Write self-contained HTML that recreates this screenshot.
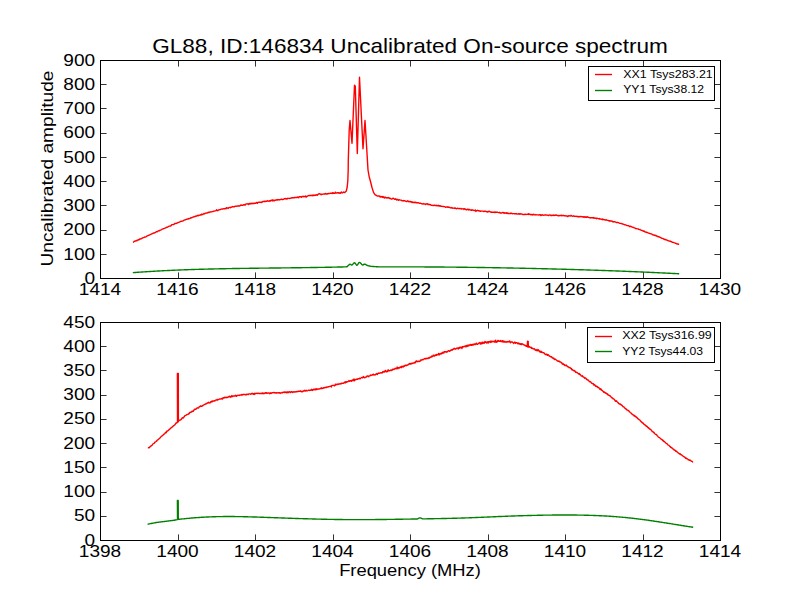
<!DOCTYPE html>
<html><head><meta charset="utf-8"><style>
html,body{margin:0;padding:0;background:#fff;width:800px;height:600px;overflow:hidden}
svg{display:block}
text{font-family:"Liberation Sans", sans-serif}
</style></head><body>
<svg width="800" height="600" viewBox="0 0 800 600">
<rect width="800" height="600" fill="#fff"/>
<defs><clipPath id="c1"><rect x="100" y="60" width="621" height="219"/></clipPath><clipPath id="c2"><rect x="100" y="322" width="621" height="219"/></clipPath></defs>
<g fill="none" stroke-width="1.39" stroke-linejoin="round" stroke-linecap="square">
<path clip-path="url(#c1)" stroke="#008000" d="M133.50 272.60 L134.50 272.53 L135.50 272.45 L136.50 272.38 L137.50 272.31 L138.50 272.24 L139.50 272.17 L140.50 272.10 L141.50 272.03 L142.50 271.97 L143.50 271.90 L144.50 271.83 L145.50 271.77 L146.50 271.70 L147.50 271.64 L148.50 271.58 L149.50 271.52 L150.50 271.46 L151.50 271.40 L152.50 271.34 L153.50 271.28 L154.50 271.22 L155.50 271.16 L156.50 271.11 L157.50 271.05 L158.50 271.00 L159.50 270.94 L160.50 270.89 L161.50 270.84 L162.50 270.78 L163.50 270.73 L164.50 270.68 L165.50 270.63 L166.50 270.58 L167.50 270.54 L168.50 270.49 L169.50 270.44 L170.50 270.39 L171.50 270.35 L172.50 270.30 L173.50 270.26 L174.50 270.22 L175.50 270.17 L176.50 270.13 L177.50 270.09 L178.50 270.05 L179.50 270.01 L180.50 269.97 L181.50 269.93 L182.50 269.89 L183.50 269.85 L184.50 269.81 L185.50 269.77 L186.50 269.74 L187.50 269.70 L188.50 269.67 L189.50 269.63 L190.50 269.60 L191.50 269.56 L192.50 269.53 L193.50 269.50 L194.50 269.47 L195.50 269.43 L196.50 269.40 L197.50 269.37 L198.50 269.34 L199.50 269.31 L200.50 269.28 L201.50 269.25 L202.50 269.23 L203.50 269.20 L204.50 269.17 L205.50 269.14 L206.50 269.12 L207.50 269.09 L208.50 269.06 L209.50 269.04 L210.50 269.01 L211.50 268.99 L212.50 268.97 L213.50 268.94 L214.50 268.92 L215.50 268.90 L216.50 268.87 L217.50 268.85 L218.50 268.83 L219.50 268.81 L220.50 268.79 L221.50 268.77 L222.50 268.75 L223.50 268.73 L224.50 268.71 L225.50 268.69 L226.50 268.67 L227.50 268.65 L228.50 268.63 L229.50 268.61 L230.50 268.60 L231.50 268.58 L232.50 268.56 L233.50 268.55 L234.50 268.53 L235.50 268.51 L236.50 268.50 L237.50 268.48 L238.50 268.46 L239.50 268.45 L240.50 268.43 L241.50 268.42 L242.50 268.40 L243.50 268.39 L244.50 268.37 L245.50 268.36 L246.50 268.35 L247.50 268.33 L248.50 268.32 L249.50 268.31 L250.50 268.29 L251.50 268.28 L252.50 268.27 L253.50 268.25 L254.50 268.24 L255.50 268.23 L256.50 268.22 L257.50 268.20 L258.50 268.19 L259.50 268.18 L260.50 268.17 L261.50 268.16 L262.50 268.14 L263.50 268.13 L264.50 268.12 L265.50 268.11 L266.50 268.10 L267.50 268.09 L268.50 268.07 L269.50 268.06 L270.50 268.05 L271.50 268.04 L272.50 268.03 L273.50 268.02 L274.50 268.01 L275.50 268.00 L276.50 267.98 L277.50 267.97 L278.50 267.96 L279.50 267.95 L280.50 267.94 L281.50 267.93 L282.50 267.92 L283.50 267.91 L284.50 267.89 L285.50 267.88 L286.50 267.87 L287.50 267.86 L288.50 267.85 L289.50 267.84 L290.50 267.83 L291.50 267.81 L292.50 267.80 L293.50 267.79 L294.50 267.78 L295.50 267.76 L296.50 267.75 L297.50 267.74 L298.50 267.73 L299.50 267.71 L300.50 267.70 L301.50 267.69 L302.50 267.67 L303.50 267.66 L304.50 267.65 L305.50 267.63 L306.50 267.62 L307.50 267.61 L308.50 267.59 L309.50 267.58 L310.50 267.56 L311.50 267.55 L312.50 267.53 L313.50 267.52 L314.50 267.50 L315.50 267.48 L316.50 267.47 L317.50 267.45 L318.50 267.43 L319.50 267.42 L320.50 267.40 L321.50 267.38 L322.50 267.37 L323.50 267.35 L324.50 267.33 L325.50 267.31 L326.50 267.29 L327.50 267.27 L328.50 267.25 L329.50 267.23 L330.50 267.21 L331.50 267.19 L332.50 267.17 L333.50 267.15 L334.50 267.13 L335.50 267.10 L336.50 267.08 L337.50 267.06 L338.50 267.04 L339.50 267.01 L340.00 267.00 L340.30 266.99 L340.69 266.98 L341.16 266.97 L341.68 266.97 L342.25 266.96 L342.85 266.94 L343.46 266.93 L344.07 266.91 L344.66 266.89 L345.21 266.86 L345.71 266.83 L346.15 266.79 L346.50 266.75 L347.35 266.49 L347.65 266.15 L348.00 265.75 L348.46 265.36 L348.97 264.89 L349.49 264.48 L350.00 264.25 L350.49 264.35 L350.97 264.67 L351.46 264.97 L352.00 265.00 L352.47 264.67 L352.96 264.09 L353.48 263.45 L353.99 262.94 L354.50 262.75 L355.00 263.03 L355.50 263.66 L356.00 264.41 L356.50 265.02 L357.00 265.25 L357.49 264.94 L357.98 264.23 L358.46 263.40 L358.97 262.71 L359.50 262.40 L359.98 262.56 L360.50 262.99 L361.03 263.58 L361.56 264.19 L362.05 264.71 L362.50 265.00 L363.05 264.97 L363.50 264.63 L363.95 264.25 L364.50 264.10 L364.92 264.21 L365.37 264.41 L365.84 264.69 L366.35 264.99 L366.90 265.27 L367.50 265.50 L367.91 265.62 L368.33 265.74 L368.76 265.85 L369.21 265.96 L369.68 266.05 L370.19 266.15 L370.74 266.24 L371.34 266.32 L372.00 266.40 L372.42 266.44 L372.89 266.49 L373.40 266.53 L373.94 266.56 L374.51 266.60 L375.10 266.64 L375.69 266.67 L376.28 266.71 L376.87 266.74 L377.43 266.77 L377.97 266.79 L378.48 266.82 L378.95 266.84 L379.36 266.86 L379.71 266.88 L380.00 266.90 L381.00 266.89 L382.00 266.89 L383.00 266.89 L384.00 266.88 L385.00 266.88 L386.00 266.88 L387.00 266.87 L388.00 266.87 L389.00 266.87 L390.00 266.87 L391.00 266.87 L392.00 266.87 L393.00 266.86 L394.00 266.86 L395.00 266.86 L396.00 266.86 L397.00 266.86 L398.00 266.86 L399.00 266.86 L400.00 266.86 L401.00 266.86 L402.00 266.86 L403.00 266.86 L404.00 266.86 L405.00 266.87 L406.00 266.87 L407.00 266.87 L408.00 266.87 L409.00 266.87 L410.00 266.87 L411.00 266.88 L412.00 266.88 L413.00 266.88 L414.00 266.88 L415.00 266.89 L416.00 266.89 L417.00 266.89 L418.00 266.90 L419.00 266.90 L420.00 266.91 L421.00 266.91 L422.00 266.92 L423.00 266.92 L424.00 266.93 L425.00 266.93 L426.00 266.94 L427.00 266.94 L428.00 266.95 L429.00 266.95 L430.00 266.96 L431.00 266.96 L432.00 266.97 L433.00 266.98 L434.00 266.98 L435.00 266.99 L436.00 267.00 L437.00 267.01 L438.00 267.01 L439.00 267.02 L440.00 267.03 L441.00 267.04 L442.00 267.04 L443.00 267.05 L444.00 267.06 L445.00 267.07 L446.00 267.08 L447.00 267.09 L448.00 267.10 L449.00 267.11 L450.00 267.12 L451.00 267.13 L452.00 267.14 L453.00 267.15 L454.00 267.16 L455.00 267.17 L456.00 267.18 L457.00 267.19 L458.00 267.20 L459.00 267.21 L460.00 267.22 L461.00 267.23 L462.00 267.24 L463.00 267.26 L464.00 267.27 L465.00 267.28 L466.00 267.29 L467.00 267.31 L468.00 267.32 L469.00 267.33 L470.00 267.34 L471.00 267.36 L472.00 267.37 L473.00 267.38 L474.00 267.40 L475.00 267.41 L476.00 267.43 L477.00 267.44 L478.00 267.45 L479.00 267.47 L480.00 267.48 L481.00 267.50 L482.00 267.51 L483.00 267.53 L484.00 267.54 L485.00 267.56 L486.00 267.57 L487.00 267.59 L488.00 267.61 L489.00 267.62 L490.00 267.64 L491.00 267.65 L492.00 267.67 L493.00 267.69 L494.00 267.70 L495.00 267.72 L496.00 267.74 L497.00 267.76 L498.00 267.77 L499.00 267.79 L500.00 267.81 L501.00 267.83 L502.00 267.85 L503.00 267.86 L504.00 267.88 L505.00 267.90 L506.00 267.92 L507.00 267.94 L508.00 267.96 L509.00 267.98 L510.00 268.00 L511.00 268.01 L512.00 268.03 L513.00 268.05 L514.00 268.07 L515.00 268.09 L516.00 268.11 L517.00 268.13 L518.00 268.15 L519.00 268.17 L520.00 268.20 L521.00 268.22 L522.00 268.24 L523.00 268.26 L524.00 268.28 L525.00 268.30 L526.00 268.32 L527.00 268.34 L528.00 268.37 L529.00 268.39 L530.00 268.41 L531.00 268.43 L532.00 268.45 L533.00 268.48 L534.00 268.50 L535.00 268.52 L536.00 268.55 L537.00 268.57 L538.00 268.59 L539.00 268.62 L540.00 268.64 L541.00 268.66 L542.00 268.69 L543.00 268.71 L544.00 268.74 L545.00 268.76 L546.00 268.78 L547.00 268.81 L548.00 268.83 L549.00 268.86 L550.00 268.88 L551.00 268.91 L552.00 268.94 L553.00 268.96 L554.00 268.99 L555.00 269.01 L556.00 269.04 L557.00 269.07 L558.00 269.09 L559.00 269.12 L560.00 269.15 L561.00 269.17 L562.00 269.20 L563.00 269.23 L564.00 269.26 L565.00 269.28 L566.00 269.31 L567.00 269.34 L568.00 269.37 L569.00 269.40 L570.00 269.42 L571.00 269.45 L572.00 269.48 L573.00 269.51 L574.00 269.54 L575.00 269.57 L576.00 269.60 L577.00 269.63 L578.00 269.66 L579.00 269.69 L580.00 269.72 L581.00 269.75 L582.00 269.78 L583.00 269.81 L584.00 269.84 L585.00 269.88 L586.00 269.91 L587.00 269.94 L588.00 269.97 L589.00 270.00 L590.00 270.04 L591.00 270.07 L592.00 270.10 L593.00 270.13 L594.00 270.17 L595.00 270.20 L596.00 270.23 L597.00 270.27 L598.00 270.30 L599.00 270.33 L600.00 270.37 L601.00 270.40 L602.00 270.44 L603.00 270.47 L604.00 270.51 L605.00 270.54 L606.00 270.58 L607.00 270.61 L608.00 270.65 L609.00 270.69 L610.00 270.72 L611.00 270.76 L612.00 270.80 L613.00 270.83 L614.00 270.87 L615.00 270.91 L616.00 270.94 L617.00 270.98 L618.00 271.02 L619.00 271.06 L620.00 271.10 L621.00 271.14 L622.00 271.17 L623.00 271.21 L624.00 271.25 L625.00 271.29 L626.00 271.33 L627.00 271.37 L628.00 271.41 L629.00 271.45 L630.00 271.49 L631.00 271.53 L632.00 271.57 L633.00 271.62 L634.00 271.66 L635.00 271.70 L636.00 271.74 L637.00 271.78 L638.00 271.83 L639.00 271.87 L640.00 271.91 L641.00 271.95 L642.00 272.00 L643.00 272.04 L644.00 272.08 L645.00 272.13 L646.00 272.17 L647.00 272.22 L648.00 272.26 L649.00 272.31 L650.00 272.35 L651.00 272.40 L652.00 272.44 L653.00 272.49 L654.00 272.53 L655.00 272.58 L656.00 272.63 L657.00 272.67 L658.00 272.72 L659.00 272.77 L660.00 272.82 L661.00 272.86 L662.00 272.91 L663.00 272.96 L664.00 273.01 L665.00 273.06 L666.00 273.11 L667.00 273.15 L668.00 273.20 L669.00 273.25 L670.00 273.30 L671.00 273.35 L672.00 273.40 L673.00 273.46 L674.00 273.51 L675.00 273.56 L676.00 273.61 L677.00 273.66 L678.00 273.71 L678.50 273.74"/>
<path clip-path="url(#c1)" stroke="#ff0000" d="M133.60 241.99 L134.15 241.47 L134.70 241.26 L135.25 240.97 L135.80 241.01 L136.35 240.35 L136.90 240.69 L137.45 240.11 L138.00 240.04 L138.55 239.73 L139.10 239.74 L139.65 239.00 L140.20 239.02 L140.75 238.78 L141.30 238.77 L141.85 238.20 L142.40 238.10 L142.95 237.76 L143.50 237.66 L144.05 237.50 L144.60 237.01 L145.15 237.11 L145.70 236.83 L146.25 236.53 L146.80 236.34 L147.35 235.85 L147.90 235.70 L148.45 235.32 L149.00 235.18 L149.55 235.06 L150.10 234.62 L150.65 234.42 L151.20 234.13 L151.75 233.85 L152.30 233.63 L152.85 233.49 L153.40 233.06 L153.95 233.04 L154.50 233.03 L155.05 232.63 L155.60 232.22 L156.15 231.85 L156.70 231.63 L157.25 231.80 L157.80 231.27 L158.35 230.90 L158.90 230.80 L159.45 230.89 L160.00 230.29 L160.55 230.13 L161.10 229.83 L161.65 229.46 L162.20 229.07 L162.75 228.97 L163.30 228.75 L163.85 228.65 L164.40 228.46 L164.95 228.23 L165.50 227.87 L166.05 227.74 L166.60 227.19 L167.15 227.33 L167.70 226.95 L168.25 226.55 L168.80 226.47 L169.35 226.12 L169.90 226.12 L170.45 225.96 L171.00 225.86 L171.55 224.93 L172.10 224.68 L172.65 224.64 L173.20 224.54 L173.75 224.46 L174.30 224.12 L174.85 223.42 L175.40 223.54 L175.95 223.55 L176.50 223.21 L177.05 223.10 L177.60 222.68 L178.15 222.47 L178.70 222.33 L179.25 222.17 L179.80 221.91 L180.35 221.68 L180.90 221.31 L181.45 221.32 L182.00 221.06 L182.55 221.07 L183.10 220.88 L183.65 220.46 L184.20 220.13 L184.75 219.88 L185.30 219.91 L185.85 219.63 L186.40 219.35 L186.95 219.24 L187.50 218.90 L188.05 218.99 L188.60 218.55 L189.15 218.73 L189.70 218.36 L190.25 218.21 L190.80 217.65 L191.35 217.75 L191.90 217.69 L192.45 217.13 L193.00 217.10 L193.55 216.99 L194.10 216.49 L194.65 216.69 L195.20 216.64 L195.75 216.07 L196.30 216.18 L196.85 215.62 L197.40 215.74 L197.95 215.20 L198.50 215.67 L199.05 215.34 L199.60 215.07 L200.15 214.72 L200.70 215.04 L201.25 215.04 L201.80 213.97 L202.35 214.54 L202.90 214.48 L203.45 214.01 L204.00 213.49 L204.55 213.82 L205.10 213.41 L205.65 213.16 L206.20 212.85 L206.75 213.13 L207.30 213.04 L207.85 212.54 L208.40 212.67 L208.95 212.11 L209.50 212.44 L210.05 212.11 L210.60 211.91 L211.15 211.78 L211.70 211.88 L212.25 211.71 L212.80 211.51 L213.35 211.27 L213.90 211.12 L214.45 211.11 L215.00 210.88 L215.55 210.86 L216.10 210.47 L216.65 209.80 L217.20 210.54 L217.75 210.70 L218.30 210.13 L218.85 209.86 L219.40 209.72 L219.95 209.59 L220.50 209.50 L221.05 209.08 L221.60 209.11 L222.15 208.86 L222.70 209.05 L223.25 208.79 L223.80 208.87 L224.35 208.57 L224.90 208.75 L225.45 208.43 L226.00 208.83 L226.55 207.64 L227.10 207.85 L227.65 208.14 L228.20 208.45 L228.75 207.61 L229.30 207.57 L229.85 207.38 L230.40 207.68 L230.95 207.14 L231.50 207.28 L232.05 206.91 L232.60 206.55 L233.15 206.86 L233.70 206.80 L234.25 206.90 L234.80 206.42 L235.35 206.18 L235.90 206.39 L236.45 206.20 L237.00 206.11 L237.55 205.91 L238.10 206.14 L238.65 205.82 L239.20 206.14 L239.75 205.82 L240.30 205.60 L240.85 204.88 L241.40 205.39 L241.95 205.24 L242.50 205.25 L243.05 205.22 L243.60 204.73 L244.15 204.97 L244.70 204.49 L245.25 205.09 L245.80 204.10 L246.35 203.88 L246.90 203.82 L247.45 203.94 L248.00 203.78 L248.55 204.54 L249.10 203.82 L249.65 203.45 L250.20 204.04 L250.75 203.48 L251.30 203.21 L251.85 203.71 L252.40 203.56 L252.95 203.18 L253.50 203.60 L254.05 203.16 L254.60 203.49 L255.15 203.10 L255.70 203.31 L256.25 202.82 L256.80 202.37 L257.35 203.31 L257.90 202.39 L258.45 202.40 L259.00 202.18 L259.55 202.24 L260.10 202.29 L260.65 202.19 L261.20 202.25 L261.75 202.49 L262.30 201.87 L262.85 201.47 L263.40 201.41 L263.95 201.48 L264.50 201.11 L265.05 201.75 L265.60 201.29 L266.15 201.27 L266.70 201.28 L267.25 200.81 L267.80 200.88 L268.35 201.25 L268.90 201.16 L269.45 200.78 L270.00 201.35 L270.55 200.38 L271.10 200.58 L271.65 200.54 L272.20 199.73 L272.75 201.02 L273.30 200.49 L273.85 200.01 L274.40 200.84 L274.95 200.34 L275.50 200.22 L276.05 199.85 L276.60 199.98 L277.15 199.44 L277.70 200.04 L278.25 199.63 L278.80 199.71 L279.35 199.95 L279.90 199.61 L280.45 199.53 L281.00 199.46 L281.55 199.10 L282.10 199.49 L282.65 199.62 L283.20 199.32 L283.75 199.29 L284.30 198.70 L284.85 198.64 L285.40 198.40 L285.95 199.11 L286.50 198.60 L287.05 199.02 L287.60 198.31 L288.15 198.34 L288.70 198.43 L289.25 198.60 L289.80 198.28 L290.35 198.25 L290.90 198.12 L291.45 198.10 L292.00 197.65 L292.55 197.93 L293.10 197.78 L293.65 197.75 L294.20 197.84 L294.75 197.42 L295.30 197.53 L295.85 197.40 L296.40 197.54 L296.95 197.58 L297.50 196.98 L298.05 197.38 L298.60 197.75 L299.15 196.62 L299.70 196.74 L300.25 196.65 L300.80 196.76 L301.35 197.27 L301.90 196.71 L302.45 196.42 L303.00 196.75 L303.55 196.31 L304.10 196.76 L304.65 196.44 L305.20 196.70 L305.75 196.01 L306.30 197.06 L306.85 196.32 L307.40 196.20 L307.95 195.92 L308.50 195.64 L309.05 195.53 L309.60 195.68 L310.15 195.41 L310.70 195.67 L311.25 195.27 L311.80 195.64 L312.35 195.68 L312.90 195.10 L313.45 195.62 L314.00 195.11 L314.55 195.48 L315.10 195.19 L315.65 195.33 L316.20 194.62 L316.75 194.83 L317.30 195.24 L317.85 194.54 L318.40 194.04 L318.95 194.00 L319.50 193.76 L320.05 193.82 L320.60 194.29 L321.15 194.76 L321.70 194.16 L322.25 194.34 L322.80 194.15 L323.35 194.12 L323.90 194.01 L324.45 193.95 L325.00 194.09 L325.55 193.53 L326.10 194.15 L326.65 194.07 L327.20 193.67 L327.75 193.93 L328.30 193.40 L328.85 193.40 L329.40 193.57 L329.95 193.41 L330.50 193.28 L331.05 193.16 L331.60 193.14 L332.15 193.57 L332.70 192.61 L333.25 193.29 L333.80 193.06 L334.35 193.32 L334.90 193.21 L335.45 192.12 L336.00 193.14 L336.55 193.02 L337.10 192.88 L337.65 192.69 L338.20 193.07 L338.75 192.63 L339.30 193.31 L339.85 192.87 L340.40 193.33 L340.95 192.37 L341.50 192.03 L342.05 192.78 L342.60 192.80 L343.15 192.51 L343.70 191.98 L344.25 192.30 L344.80 192.61 L345.00 192.34 L346.30 191.10 L347.20 187.00 L347.80 181.00 L348.20 170.00 L348.30 160.00 L349.20 130.00 L350.00 120.50 L352.00 143.30 L354.50 85.30 L355.30 86.20 L357.30 153.50 L359.50 77.30 L363.00 148.80 L365.00 120.50 L365.60 130.00 L367.40 160.00 L368.00 170.00 L369.30 177.30 L370.50 181.50 L372.00 187.50 L373.50 192.40 L375.00 194.60 L377.50 196.10 L378.05 196.13 L378.60 196.00 L379.15 196.22 L379.70 196.05 L380.25 197.12 L380.80 196.54 L381.35 196.92 L381.90 196.57 L382.45 197.21 L383.00 196.51 L383.55 197.45 L384.10 197.26 L384.65 198.00 L385.20 197.07 L385.75 197.58 L386.30 197.77 L386.85 198.12 L387.40 197.73 L387.95 197.97 L388.50 197.41 L389.05 197.89 L389.60 198.37 L390.15 198.66 L390.70 198.34 L391.25 199.13 L391.80 199.14 L392.35 198.69 L392.90 198.10 L393.45 198.38 L394.00 198.77 L394.55 199.42 L395.10 199.28 L395.65 198.66 L396.20 199.30 L396.75 199.94 L397.30 199.45 L397.85 199.43 L398.40 200.34 L398.95 199.85 L399.50 199.79 L400.05 200.12 L400.60 200.12 L401.15 200.08 L401.70 200.64 L402.25 200.71 L402.80 200.72 L403.35 200.54 L403.90 200.99 L404.45 200.74 L405.00 200.97 L405.55 201.23 L406.10 201.25 L406.65 201.62 L407.20 201.33 L407.75 200.81 L408.30 201.05 L408.85 201.85 L409.40 201.46 L409.95 201.75 L410.50 201.49 L411.05 202.10 L411.60 201.80 L412.15 202.41 L412.70 201.93 L413.25 202.48 L413.80 202.44 L414.35 202.14 L414.90 202.74 L415.45 202.26 L416.00 202.37 L416.55 202.89 L417.10 202.60 L417.65 202.69 L418.20 202.84 L418.75 202.75 L419.30 203.40 L419.85 203.36 L420.40 203.26 L420.95 203.33 L421.50 203.57 L422.05 204.02 L422.60 203.85 L423.15 203.55 L423.70 203.99 L424.25 203.83 L424.80 203.89 L425.35 204.54 L425.90 203.99 L426.45 204.06 L427.00 203.73 L427.55 203.97 L428.10 204.55 L428.65 204.32 L429.20 204.73 L429.75 204.37 L430.30 204.54 L430.85 205.02 L431.40 205.31 L431.95 205.15 L432.50 205.39 L433.05 205.61 L433.60 205.51 L434.15 205.06 L434.70 205.35 L435.25 205.63 L435.80 205.42 L436.35 205.74 L436.90 205.27 L437.45 205.54 L438.00 205.99 L438.55 205.32 L439.10 205.70 L439.65 206.07 L440.20 205.69 L440.75 206.24 L441.30 206.08 L441.85 206.29 L442.40 206.38 L442.95 206.57 L443.50 206.44 L444.05 206.69 L444.60 206.58 L445.15 206.96 L445.70 207.33 L446.25 207.01 L446.80 207.08 L447.35 206.80 L447.90 207.36 L448.45 207.05 L449.00 207.10 L449.55 207.53 L450.10 207.51 L450.65 207.82 L451.20 207.98 L451.75 207.53 L452.30 207.77 L452.85 208.27 L453.40 208.13 L453.95 208.13 L454.50 208.35 L455.05 207.92 L455.60 208.32 L456.15 208.58 L456.70 208.71 L457.25 208.14 L457.80 208.35 L458.35 208.58 L458.90 208.48 L459.45 208.52 L460.00 208.86 L460.55 208.66 L461.10 208.35 L461.65 208.97 L462.20 208.83 L462.75 208.82 L463.30 208.67 L463.85 209.40 L464.40 208.63 L464.95 208.83 L465.50 209.25 L466.05 209.70 L466.60 209.78 L467.15 209.22 L467.70 209.53 L468.25 209.25 L468.80 209.95 L469.35 209.38 L469.90 209.78 L470.45 210.14 L471.00 209.88 L471.55 210.37 L472.10 209.84 L472.65 210.21 L473.20 210.39 L473.75 210.20 L474.30 210.64 L474.85 210.49 L475.40 209.99 L475.95 211.46 L476.50 210.68 L477.05 210.60 L477.60 210.28 L478.15 210.71 L478.70 210.63 L479.25 210.96 L479.80 210.95 L480.35 211.37 L480.90 211.00 L481.45 211.15 L482.00 211.17 L482.55 211.09 L483.10 211.14 L483.65 211.51 L484.20 211.48 L484.75 211.18 L485.30 211.12 L485.85 211.43 L486.40 211.78 L486.95 211.54 L487.50 212.03 L488.05 211.46 L488.60 211.73 L489.15 211.13 L489.70 211.65 L490.25 211.77 L490.80 212.02 L491.35 212.37 L491.90 212.00 L492.45 212.40 L493.00 212.25 L493.55 212.38 L494.10 212.07 L494.65 212.57 L495.20 212.01 L495.75 212.44 L496.30 212.14 L496.85 212.29 L497.40 212.10 L497.95 212.38 L498.50 212.63 L499.05 212.57 L499.60 212.31 L500.15 213.04 L500.70 212.80 L501.25 213.01 L501.80 213.00 L502.35 212.69 L502.90 212.42 L503.45 212.71 L504.00 213.27 L504.55 212.76 L505.10 213.25 L505.65 212.95 L506.20 213.23 L506.75 212.73 L507.30 213.49 L507.85 213.24 L508.40 213.50 L508.95 213.37 L509.50 213.56 L510.05 213.38 L510.60 213.62 L511.15 213.11 L511.70 213.25 L512.25 213.72 L512.80 213.58 L513.35 213.57 L513.90 213.61 L514.45 213.81 L515.00 213.58 L515.55 213.88 L516.10 213.57 L516.65 213.73 L517.20 214.09 L517.75 214.15 L518.30 213.66 L518.85 214.15 L519.40 213.74 L519.95 214.19 L520.50 213.60 L521.05 213.81 L521.60 213.99 L522.15 214.10 L522.70 214.51 L523.25 214.41 L523.80 214.60 L524.35 214.54 L524.90 214.21 L525.45 214.25 L526.00 214.59 L526.55 214.37 L527.10 214.35 L527.65 214.10 L528.20 214.42 L528.75 213.81 L529.30 214.38 L529.85 214.28 L530.40 214.70 L530.95 214.45 L531.50 214.51 L532.05 214.93 L532.60 214.39 L533.15 214.73 L533.70 214.23 L534.25 214.72 L534.80 214.82 L535.35 214.94 L535.90 214.55 L536.45 214.86 L537.00 214.88 L537.55 214.82 L538.10 214.88 L538.65 214.97 L539.20 214.97 L539.75 214.66 L540.30 214.63 L540.85 215.52 L541.40 215.40 L541.95 214.64 L542.50 215.09 L543.05 215.15 L543.60 215.20 L544.15 215.07 L544.70 214.84 L545.25 215.03 L545.80 214.97 L546.35 215.14 L546.90 215.06 L547.45 215.11 L548.00 215.39 L548.55 215.46 L549.10 214.91 L549.65 215.10 L550.20 215.03 L550.75 215.52 L551.30 215.24 L551.85 215.61 L552.40 215.18 L552.95 215.31 L553.50 215.01 L554.05 215.64 L554.60 215.27 L555.15 215.03 L555.70 215.25 L556.25 214.87 L556.80 215.42 L557.35 215.47 L557.90 215.53 L558.45 215.83 L559.00 215.43 L559.55 215.71 L560.10 215.62 L560.65 215.52 L561.20 215.10 L561.75 215.83 L562.30 215.51 L562.85 215.66 L563.40 215.38 L563.95 215.76 L564.50 215.74 L565.05 215.75 L565.60 215.74 L566.15 216.04 L566.70 216.04 L567.25 216.01 L567.80 216.64 L568.35 215.76 L568.90 215.84 L569.45 215.72 L570.00 216.08 L570.55 215.85 L571.10 215.42 L571.65 215.79 L572.20 216.12 L572.75 216.37 L573.30 215.81 L573.85 216.06 L574.40 216.21 L574.95 216.11 L575.50 216.43 L576.05 216.35 L576.60 216.46 L577.15 216.26 L577.70 216.81 L578.25 216.50 L578.80 216.84 L579.35 216.48 L579.90 216.76 L580.45 216.51 L581.00 216.50 L581.55 216.60 L582.10 216.80 L582.65 216.80 L583.20 217.25 L583.75 216.69 L584.30 216.75 L584.85 217.44 L585.40 217.24 L585.95 216.73 L586.50 217.33 L587.05 217.32 L587.60 216.84 L588.15 217.30 L588.70 217.44 L589.25 217.67 L589.80 217.78 L590.35 217.65 L590.90 217.93 L591.45 217.73 L592.00 217.63 L592.55 217.68 L593.10 218.08 L593.65 217.60 L594.20 218.26 L594.75 217.93 L595.30 218.17 L595.85 218.44 L596.40 218.67 L596.95 218.05 L597.50 218.38 L598.05 218.65 L598.60 218.60 L599.15 219.00 L599.70 218.44 L600.25 219.06 L600.80 219.17 L601.35 219.17 L601.90 219.50 L602.45 219.08 L603.00 219.68 L603.55 219.39 L604.10 219.79 L604.65 219.67 L605.20 220.01 L605.75 220.11 L606.30 219.73 L606.85 220.12 L607.40 220.24 L607.95 220.32 L608.50 220.32 L609.05 220.99 L609.60 220.75 L610.15 221.16 L610.70 220.82 L611.25 220.84 L611.80 221.21 L612.35 221.19 L612.90 221.94 L613.45 221.62 L614.00 221.94 L614.55 221.78 L615.10 221.89 L615.65 222.09 L616.20 222.30 L616.75 222.55 L617.30 222.49 L617.85 222.51 L618.40 222.58 L618.95 222.93 L619.50 223.21 L620.05 223.34 L620.60 223.40 L621.15 223.43 L621.70 223.74 L622.25 223.98 L622.80 224.02 L623.35 224.21 L623.90 224.32 L624.45 224.70 L625.00 224.60 L625.55 224.89 L626.10 225.10 L626.65 225.34 L627.20 225.66 L627.75 225.68 L628.30 225.84 L628.85 225.61 L629.40 226.19 L629.95 226.70 L630.50 226.28 L631.05 226.43 L631.60 226.76 L632.15 227.18 L632.70 227.28 L633.25 227.28 L633.80 227.55 L634.35 227.94 L634.90 228.06 L635.45 228.58 L636.00 228.51 L636.55 228.58 L637.10 228.83 L637.65 228.85 L638.20 228.93 L638.75 229.34 L639.30 229.59 L639.85 229.46 L640.40 229.81 L640.95 230.04 L641.50 230.36 L642.05 230.47 L642.60 230.80 L643.15 230.94 L643.70 231.32 L644.25 231.04 L644.80 231.83 L645.35 232.00 L645.90 231.97 L646.45 232.28 L647.00 232.48 L647.55 232.47 L648.10 232.83 L648.65 233.14 L649.20 233.27 L649.75 233.61 L650.30 233.66 L650.85 233.87 L651.40 233.95 L651.95 234.22 L652.50 234.42 L653.05 234.99 L653.60 234.96 L654.15 234.98 L654.70 235.41 L655.25 235.53 L655.80 235.30 L656.35 236.07 L656.90 235.96 L657.45 236.51 L658.00 236.49 L658.55 236.62 L659.10 237.14 L659.65 237.05 L660.20 237.42 L660.75 237.73 L661.30 238.01 L661.85 238.24 L662.40 238.33 L662.95 238.43 L663.50 239.04 L664.05 238.89 L664.60 239.45 L665.15 239.33 L665.70 239.77 L666.25 239.97 L666.80 239.88 L667.35 240.28 L667.90 240.55 L668.45 240.75 L669.00 240.83 L669.55 241.11 L670.10 241.22 L670.65 241.31 L671.20 241.81 L671.75 241.81 L672.30 242.27 L672.85 242.37 L673.40 242.37 L673.95 242.67 L674.50 242.85 L675.05 242.97 L675.60 243.35 L676.15 243.42 L676.70 243.88 L677.25 243.98 L677.80 243.95 L678.35 244.25 L678.50 244.28"/>
<path clip-path="url(#c2)" stroke="#008000" d="M148.25 524.20 L149.25 523.94 L150.25 523.69 L151.25 523.47 L152.25 523.25 L153.25 523.06 L154.25 522.87 L155.25 522.70 L156.25 522.53 L157.25 522.38 L158.25 522.24 L159.25 522.10 L160.25 521.97 L161.25 521.84 L162.25 521.72 L163.25 521.60 L164.25 521.49 L165.25 521.37 L166.25 521.26 L167.25 521.14 L168.25 521.02 L169.25 520.90 L170.25 520.77 L171.25 520.63 L172.25 520.49 L173.25 520.35 L174.25 520.19 L175.25 520.02 L176.25 519.84 L177.25 519.65 L177.50 519.60 L177.40 500.50 L178.20 500.50 L178.30 519.40 L177.50 519.50 L178.50 519.38 L179.50 519.26 L180.50 519.15 L181.50 519.04 L182.50 518.93 L183.50 518.82 L184.50 518.72 L185.50 518.61 L186.50 518.51 L187.50 518.42 L188.50 518.32 L189.50 518.23 L190.50 518.14 L191.50 518.05 L192.50 517.97 L193.50 517.88 L194.50 517.80 L195.50 517.72 L196.50 517.65 L197.50 517.58 L198.50 517.51 L199.50 517.44 L200.50 517.37 L201.50 517.31 L202.50 517.25 L203.50 517.19 L204.50 517.14 L205.50 517.09 L206.50 517.04 L207.50 516.99 L208.50 516.94 L209.50 516.90 L210.50 516.86 L211.50 516.82 L212.50 516.79 L213.50 516.76 L214.50 516.73 L215.50 516.70 L216.50 516.67 L217.50 516.65 L218.50 516.63 L219.50 516.61 L220.50 516.59 L221.50 516.58 L222.50 516.57 L223.50 516.56 L224.50 516.55 L225.50 516.54 L226.50 516.54 L227.50 516.53 L228.50 516.53 L229.50 516.53 L230.50 516.54 L231.50 516.54 L232.50 516.55 L233.50 516.55 L234.50 516.56 L235.50 516.57 L236.50 516.59 L237.50 516.60 L238.50 516.61 L239.50 516.63 L240.50 516.65 L241.50 516.67 L242.50 516.68 L243.50 516.71 L244.50 516.73 L245.50 516.75 L246.50 516.77 L247.50 516.80 L248.50 516.83 L249.50 516.85 L250.50 516.88 L251.50 516.91 L252.50 516.94 L253.50 516.97 L254.50 517.00 L255.50 517.03 L256.50 517.06 L257.50 517.10 L258.50 517.13 L259.50 517.16 L260.50 517.20 L261.50 517.23 L262.50 517.27 L263.50 517.30 L264.50 517.34 L265.50 517.37 L266.50 517.41 L267.50 517.45 L268.50 517.48 L269.50 517.52 L270.50 517.55 L271.50 517.59 L272.50 517.63 L273.50 517.66 L274.50 517.70 L275.50 517.74 L276.50 517.77 L277.50 517.81 L278.50 517.84 L279.50 517.88 L280.50 517.92 L281.50 517.95 L282.50 517.99 L283.50 518.02 L284.50 518.06 L285.50 518.09 L286.50 518.13 L287.50 518.16 L288.50 518.20 L289.50 518.23 L290.50 518.27 L291.50 518.30 L292.50 518.34 L293.50 518.37 L294.50 518.40 L295.50 518.44 L296.50 518.47 L297.50 518.50 L298.50 518.53 L299.50 518.57 L300.50 518.60 L301.50 518.63 L302.50 518.66 L303.50 518.69 L304.50 518.72 L305.50 518.75 L306.50 518.78 L307.50 518.81 L308.50 518.84 L309.50 518.87 L310.50 518.90 L311.50 518.93 L312.50 518.96 L313.50 518.99 L314.50 519.01 L315.50 519.04 L316.50 519.07 L317.50 519.09 L318.50 519.12 L319.50 519.14 L320.50 519.17 L321.50 519.19 L322.50 519.21 L323.50 519.24 L324.50 519.26 L325.50 519.28 L326.50 519.30 L327.50 519.32 L328.50 519.34 L329.50 519.36 L330.50 519.38 L331.50 519.40 L332.50 519.42 L333.50 519.43 L334.50 519.45 L335.50 519.47 L336.50 519.48 L337.50 519.50 L338.50 519.51 L339.50 519.53 L340.50 519.54 L341.50 519.55 L342.50 519.56 L343.50 519.57 L344.50 519.58 L345.50 519.59 L346.50 519.60 L347.50 519.61 L348.50 519.62 L349.50 519.62 L350.50 519.63 L351.50 519.63 L352.50 519.64 L353.50 519.64 L354.50 519.64 L355.50 519.65 L356.50 519.65 L357.50 519.65 L358.50 519.65 L359.50 519.65 L360.50 519.65 L361.50 519.64 L362.50 519.64 L363.50 519.64 L364.50 519.63 L365.50 519.63 L366.50 519.63 L367.50 519.62 L368.50 519.61 L369.50 519.61 L370.50 519.60 L371.50 519.59 L372.50 519.59 L373.50 519.58 L374.50 519.57 L375.50 519.56 L376.50 519.55 L377.50 519.54 L378.50 519.53 L379.50 519.52 L380.50 519.51 L381.50 519.50 L382.50 519.49 L383.50 519.47 L384.50 519.46 L385.50 519.45 L386.50 519.44 L387.50 519.42 L388.50 519.41 L389.50 519.39 L390.50 519.38 L391.50 519.37 L392.50 519.35 L393.50 519.34 L394.50 519.32 L395.50 519.31 L396.50 519.29 L397.50 519.28 L398.50 519.26 L399.50 519.25 L400.50 519.23 L401.50 519.22 L402.50 519.20 L403.50 519.18 L404.50 519.17 L405.50 519.15 L406.50 519.14 L407.50 519.12 L408.50 519.11 L409.50 519.09 L410.50 519.08 L411.50 519.06 L412.50 519.04 L413.50 519.03 L414.50 519.01 L415.50 519.00 L416.50 518.98 L417.50 518.97 L418.50 518.43 L419.50 517.90 L420.50 517.88 L421.50 518.38 L422.50 518.89 L423.50 518.87 L424.50 518.86 L425.50 518.84 L426.50 518.82 L427.50 518.81 L428.50 518.79 L429.50 518.77 L430.50 518.76 L431.50 518.74 L432.50 518.72 L433.50 518.70 L434.50 518.68 L435.50 518.67 L436.50 518.65 L437.50 518.63 L438.50 518.61 L439.50 518.59 L440.50 518.57 L441.50 518.55 L442.50 518.53 L443.50 518.51 L444.50 518.49 L445.50 518.46 L446.50 518.44 L447.50 518.42 L448.50 518.40 L449.50 518.37 L450.50 518.35 L451.50 518.32 L452.50 518.30 L453.50 518.27 L454.50 518.25 L455.50 518.22 L456.50 518.19 L457.50 518.16 L458.50 518.14 L459.50 518.11 L460.50 518.08 L461.50 518.05 L462.50 518.02 L463.50 517.98 L464.50 517.95 L465.50 517.92 L466.50 517.88 L467.50 517.85 L468.50 517.82 L469.50 517.78 L470.50 517.74 L471.50 517.71 L472.50 517.67 L473.50 517.63 L474.50 517.59 L475.50 517.55 L476.50 517.51 L477.50 517.47 L478.50 517.43 L479.50 517.39 L480.50 517.34 L481.50 517.30 L482.50 517.26 L483.50 517.22 L484.50 517.17 L485.50 517.13 L486.50 517.08 L487.50 517.04 L488.50 517.00 L489.50 516.95 L490.50 516.91 L491.50 516.87 L492.50 516.82 L493.50 516.78 L494.50 516.74 L495.50 516.69 L496.50 516.65 L497.50 516.61 L498.50 516.56 L499.50 516.52 L500.50 516.48 L501.50 516.44 L502.50 516.40 L503.50 516.36 L504.50 516.32 L505.50 516.28 L506.50 516.24 L507.50 516.20 L508.50 516.16 L509.50 516.13 L510.50 516.09 L511.50 516.05 L512.50 516.02 L513.50 515.98 L514.50 515.95 L515.50 515.91 L516.50 515.88 L517.50 515.84 L518.50 515.81 L519.50 515.78 L520.50 515.75 L521.50 515.72 L522.50 515.69 L523.50 515.66 L524.50 515.63 L525.50 515.60 L526.50 515.57 L527.50 515.54 L528.50 515.51 L529.50 515.49 L530.50 515.46 L531.50 515.44 L532.50 515.41 L533.50 515.39 L534.50 515.36 L535.50 515.34 L536.50 515.32 L537.50 515.30 L538.50 515.28 L539.50 515.26 L540.50 515.24 L541.50 515.22 L542.50 515.20 L543.50 515.18 L544.50 515.17 L545.50 515.15 L546.50 515.13 L547.50 515.12 L548.50 515.11 L549.50 515.09 L550.50 515.08 L551.50 515.07 L552.50 515.06 L553.50 515.05 L554.50 515.04 L555.50 515.03 L556.50 515.02 L557.50 515.02 L558.50 515.01 L559.50 515.00 L560.50 515.00 L561.50 515.00 L562.50 514.99 L563.50 514.99 L564.50 514.99 L565.50 514.99 L566.50 514.99 L567.50 514.99 L568.50 515.00 L569.50 515.00 L570.50 515.01 L571.50 515.01 L572.50 515.02 L573.50 515.03 L574.50 515.04 L575.50 515.05 L576.50 515.06 L577.50 515.07 L578.50 515.08 L579.50 515.10 L580.50 515.12 L581.50 515.13 L582.50 515.15 L583.50 515.17 L584.50 515.19 L585.50 515.22 L586.50 515.24 L587.50 515.27 L588.50 515.29 L589.50 515.32 L590.50 515.35 L591.50 515.39 L592.50 515.42 L593.50 515.45 L594.50 515.49 L595.50 515.53 L596.50 515.57 L597.50 515.61 L598.50 515.65 L599.50 515.70 L600.50 515.74 L601.50 515.79 L602.50 515.84 L603.50 515.89 L604.50 515.95 L605.50 516.00 L606.50 516.06 L607.50 516.12 L608.50 516.18 L609.50 516.24 L610.50 516.31 L611.50 516.37 L612.50 516.44 L613.50 516.51 L614.50 516.59 L615.50 516.66 L616.50 516.74 L617.50 516.82 L618.50 516.90 L619.50 516.98 L620.50 517.07 L621.50 517.16 L622.50 517.25 L623.50 517.34 L624.50 517.43 L625.50 517.53 L626.50 517.63 L627.50 517.73 L628.50 517.83 L629.50 517.94 L630.50 518.05 L631.50 518.16 L632.50 518.27 L633.50 518.38 L634.50 518.50 L635.50 518.62 L636.50 518.74 L637.50 518.86 L638.50 518.98 L639.50 519.11 L640.50 519.24 L641.50 519.37 L642.50 519.50 L643.50 519.63 L644.50 519.76 L645.50 519.90 L646.50 520.04 L647.50 520.17 L648.50 520.31 L649.50 520.46 L650.50 520.60 L651.50 520.74 L652.50 520.89 L653.50 521.04 L654.50 521.19 L655.50 521.34 L656.50 521.49 L657.50 521.64 L658.50 521.79 L659.50 521.94 L660.50 522.10 L661.50 522.25 L662.50 522.41 L663.50 522.57 L664.50 522.73 L665.50 522.88 L666.50 523.04 L667.50 523.20 L668.50 523.36 L669.50 523.52 L670.50 523.68 L671.50 523.84 L672.50 524.01 L673.50 524.17 L674.50 524.33 L675.50 524.49 L676.50 524.65 L677.50 524.81 L678.50 524.98 L679.50 525.14 L680.50 525.30 L681.50 525.46 L682.50 525.62 L683.50 525.78 L684.50 525.94 L685.50 526.10 L686.50 526.26 L687.50 526.42 L688.50 526.58 L689.50 526.73 L690.50 526.89 L691.50 527.05 L692.50 527.20"/>
<path clip-path="url(#c2)" stroke="#ff0000" d="M148.50 447.79 L148.95 447.88 L149.40 447.49 L149.85 447.08 L150.30 446.40 L150.75 446.31 L151.20 445.65 L151.65 445.48 L152.10 445.26 L152.55 444.51 L153.00 443.79 L153.45 443.61 L153.90 443.41 L154.35 443.13 L154.80 442.23 L155.25 442.03 L155.70 441.72 L156.15 441.36 L156.60 441.06 L157.05 440.26 L157.50 439.97 L157.95 439.88 L158.40 439.34 L158.85 438.95 L159.30 438.70 L159.75 438.08 L160.20 437.77 L160.65 437.18 L161.10 436.55 L161.55 436.15 L162.00 436.06 L162.45 435.60 L162.90 435.09 L163.35 434.91 L163.80 434.23 L164.25 434.06 L164.70 433.63 L165.15 433.04 L165.60 432.29 L166.05 432.77 L166.50 432.10 L166.95 431.00 L167.40 431.12 L167.85 430.91 L168.30 430.36 L168.75 430.15 L169.20 429.38 L169.65 429.25 L170.10 428.80 L170.55 428.36 L171.00 427.95 L171.45 427.65 L171.90 427.43 L172.35 426.67 L172.80 426.30 L173.25 426.04 L173.70 425.56 L174.15 425.29 L174.60 424.97 L175.05 424.71 L175.50 423.96 L175.95 423.01 L176.40 423.16 L176.85 422.87 L177.30 422.33 L177.50 422.16 L177.40 373.50 L178.30 373.50 L178.40 421.50 L177.50 421.60 L177.95 421.96 L178.40 421.37 L178.85 420.68 L179.30 420.47 L179.75 420.09 L180.20 420.10 L180.65 419.72 L181.10 419.61 L181.55 419.02 L182.00 418.14 L182.45 417.77 L182.90 418.09 L183.35 417.86 L183.80 417.03 L184.25 416.90 L184.70 416.01 L185.15 415.56 L185.60 415.43 L186.05 415.32 L186.50 414.95 L186.95 414.71 L187.40 414.32 L187.85 414.32 L188.30 414.21 L188.75 413.52 L189.20 413.76 L189.65 412.72 L190.10 412.45 L190.55 412.41 L191.00 411.90 L191.45 412.04 L191.90 411.24 L192.35 411.51 L192.80 410.91 L193.25 411.29 L193.70 410.17 L194.15 409.97 L194.60 409.79 L195.05 408.87 L195.50 409.39 L195.95 409.09 L196.40 408.73 L196.85 408.00 L197.30 407.75 L197.75 408.11 L198.20 408.03 L198.65 407.91 L199.10 406.95 L199.55 406.67 L200.00 406.66 L200.45 405.93 L200.90 406.10 L201.35 406.29 L201.80 406.30 L202.25 405.68 L202.70 405.86 L203.15 405.29 L203.60 405.01 L204.05 404.69 L204.50 404.59 L204.95 404.26 L205.40 404.09 L205.85 403.74 L206.30 403.82 L206.75 403.55 L207.20 402.92 L207.65 403.10 L208.10 402.73 L208.55 402.19 L209.00 402.77 L209.45 402.91 L209.90 402.98 L210.35 402.56 L210.80 401.67 L211.25 402.11 L211.70 401.93 L212.15 400.84 L212.60 401.53 L213.05 401.31 L213.50 401.01 L213.95 400.90 L214.40 400.68 L214.85 401.01 L215.30 400.25 L215.75 400.16 L216.20 400.08 L216.65 400.03 L217.10 399.27 L217.55 400.09 L218.00 399.61 L218.45 399.58 L218.90 399.34 L219.35 399.10 L219.80 398.92 L220.25 398.94 L220.70 398.83 L221.15 399.02 L221.60 398.66 L222.05 398.40 L222.50 398.93 L222.95 397.82 L223.40 397.69 L223.85 398.11 L224.30 397.83 L224.75 397.24 L225.20 397.59 L225.65 397.37 L226.10 397.84 L226.55 397.20 L227.00 397.62 L227.45 397.34 L227.90 397.04 L228.35 397.02 L228.80 397.06 L229.25 396.12 L229.70 396.85 L230.15 396.55 L230.60 397.14 L231.05 396.29 L231.50 396.78 L231.95 395.56 L232.40 396.52 L232.85 396.27 L233.30 396.04 L233.75 396.00 L234.20 395.88 L234.65 396.03 L235.10 395.78 L235.55 395.20 L236.00 395.63 L236.45 396.32 L236.90 395.57 L237.35 395.58 L237.80 395.29 L238.25 395.42 L238.70 395.36 L239.15 395.16 L239.60 395.45 L240.05 394.84 L240.50 395.03 L240.95 395.17 L241.40 394.87 L241.85 394.52 L242.30 395.03 L242.75 394.49 L243.20 394.61 L243.65 394.44 L244.10 394.62 L244.55 394.47 L245.00 394.41 L245.45 394.72 L245.90 395.02 L246.35 394.31 L246.80 394.54 L247.25 394.22 L247.70 394.32 L248.15 394.61 L248.60 394.23 L249.05 393.91 L249.50 393.90 L249.95 393.90 L250.40 394.05 L250.85 394.29 L251.30 393.56 L251.75 393.62 L252.20 393.62 L252.65 393.33 L253.10 394.27 L253.55 393.81 L254.00 394.39 L254.45 393.30 L254.90 394.13 L255.35 393.47 L255.80 393.54 L256.25 393.32 L256.70 393.31 L257.15 393.16 L257.60 393.62 L258.05 393.11 L258.50 393.42 L258.95 393.47 L259.40 393.66 L259.85 393.46 L260.30 393.50 L260.75 393.54 L261.20 393.35 L261.65 393.45 L262.10 393.00 L262.55 393.04 L263.00 393.87 L263.45 393.24 L263.90 393.00 L264.35 393.64 L264.80 393.13 L265.25 392.95 L265.70 392.68 L266.15 393.37 L266.60 392.76 L267.05 392.91 L267.50 393.27 L267.95 393.10 L268.40 393.00 L268.85 392.94 L269.30 393.35 L269.75 393.68 L270.20 392.78 L270.65 393.12 L271.10 393.53 L271.55 393.24 L272.00 392.66 L272.45 392.73 L272.90 392.66 L273.35 392.54 L273.80 392.61 L274.25 392.88 L274.70 392.59 L275.15 393.04 L275.60 392.78 L276.05 392.60 L276.50 392.99 L276.95 392.79 L277.40 392.76 L277.85 392.99 L278.30 392.82 L278.75 392.58 L279.20 392.90 L279.65 392.68 L280.10 393.49 L280.55 392.89 L281.00 392.89 L281.45 392.92 L281.90 392.51 L282.35 392.89 L282.80 392.45 L283.25 392.16 L283.70 392.22 L284.15 392.55 L284.60 391.86 L285.05 392.41 L285.50 392.09 L285.95 392.53 L286.40 392.04 L286.85 392.85 L287.30 392.47 L287.75 391.80 L288.20 392.74 L288.65 392.08 L289.10 391.90 L289.55 391.78 L290.00 392.26 L290.45 392.54 L290.90 391.84 L291.35 391.68 L291.80 391.61 L292.25 392.42 L292.70 392.45 L293.15 391.77 L293.60 392.03 L294.05 391.82 L294.50 391.77 L294.95 392.07 L295.40 391.87 L295.85 391.80 L296.30 391.56 L296.75 391.89 L297.20 391.50 L297.65 391.57 L298.10 391.58 L298.55 391.09 L299.00 391.34 L299.45 391.30 L299.90 391.39 L300.35 390.96 L300.80 390.89 L301.25 391.76 L301.70 391.56 L302.15 391.43 L302.60 391.69 L303.05 391.19 L303.50 390.98 L303.95 391.12 L304.40 390.30 L304.85 390.51 L305.30 391.06 L305.75 390.77 L306.20 390.29 L306.65 390.87 L307.10 390.92 L307.55 390.76 L308.00 390.48 L308.45 390.16 L308.90 390.40 L309.35 390.45 L309.80 390.13 L310.25 390.38 L310.70 390.23 L311.15 390.17 L311.60 389.33 L312.05 390.28 L312.50 390.42 L312.95 389.66 L313.40 389.24 L313.85 389.86 L314.30 389.42 L314.75 389.19 L315.20 389.82 L315.65 388.90 L316.10 389.51 L316.55 388.79 L317.00 389.59 L317.45 389.20 L317.90 388.86 L318.35 388.91 L318.80 388.97 L319.25 388.97 L319.70 388.88 L320.15 388.70 L320.60 388.27 L321.05 388.56 L321.50 387.82 L321.95 388.48 L322.40 388.35 L322.85 388.43 L323.30 387.68 L323.75 387.84 L324.20 387.96 L324.65 387.68 L325.10 387.34 L325.55 387.48 L326.00 387.30 L326.45 387.51 L326.90 386.86 L327.35 387.08 L327.80 386.96 L328.25 387.01 L328.70 386.63 L329.15 386.59 L329.60 386.41 L330.05 386.34 L330.50 386.22 L330.95 386.00 L331.40 386.94 L331.85 385.61 L332.30 385.38 L332.75 385.40 L333.20 385.31 L333.65 385.44 L334.10 385.80 L334.55 385.77 L335.00 385.17 L335.45 384.14 L335.90 384.99 L336.35 384.30 L336.80 384.45 L337.25 384.12 L337.70 384.53 L338.15 384.05 L338.60 384.41 L339.05 384.19 L339.50 383.82 L339.95 383.81 L340.40 383.97 L340.85 383.42 L341.30 383.73 L341.75 383.29 L342.20 383.27 L342.65 383.32 L343.10 383.38 L343.55 382.98 L344.00 382.70 L344.45 382.80 L344.90 381.91 L345.35 382.87 L345.80 381.73 L346.25 382.37 L346.70 381.74 L347.15 381.98 L347.60 381.64 L348.05 381.66 L348.50 381.16 L348.95 380.56 L349.40 381.32 L349.85 380.85 L350.30 380.71 L350.75 380.55 L351.20 381.36 L351.65 380.35 L352.10 380.54 L352.55 379.90 L353.00 380.70 L353.45 379.86 L353.90 379.02 L354.35 380.74 L354.80 379.29 L355.25 380.01 L355.70 379.68 L356.15 379.53 L356.60 379.10 L357.05 379.12 L357.50 379.36 L357.95 378.70 L358.40 378.77 L358.85 378.88 L359.30 378.46 L359.75 378.16 L360.20 378.70 L360.65 378.19 L361.10 377.90 L361.55 377.55 L362.00 377.35 L362.45 377.90 L362.90 377.80 L363.35 376.58 L363.80 377.01 L364.25 377.44 L364.70 377.84 L365.15 377.63 L365.60 377.08 L366.05 377.11 L366.50 376.32 L366.95 376.66 L367.40 375.83 L367.85 375.95 L368.30 376.15 L368.75 376.69 L369.20 376.07 L369.65 375.78 L370.10 375.50 L370.55 374.98 L371.00 375.54 L371.45 375.09 L371.90 375.18 L372.35 374.66 L372.80 374.90 L373.25 374.19 L373.70 374.80 L374.15 374.98 L374.60 374.72 L375.05 375.03 L375.50 374.27 L375.95 374.22 L376.40 374.10 L376.85 373.48 L377.30 374.46 L377.75 373.92 L378.20 373.36 L378.65 373.00 L379.10 373.42 L379.55 373.40 L380.00 373.02 L380.45 372.92 L380.90 372.66 L381.35 372.61 L381.80 372.98 L382.25 372.88 L382.70 371.71 L383.15 372.18 L383.60 371.57 L384.05 371.40 L384.50 371.98 L384.95 371.34 L385.40 370.37 L385.85 371.64 L386.30 371.75 L386.75 371.90 L387.20 370.89 L387.65 371.44 L388.10 369.82 L388.55 370.28 L389.00 370.73 L389.45 370.58 L389.90 370.77 L390.35 370.51 L390.80 370.00 L391.25 370.47 L391.70 370.03 L392.15 370.28 L392.60 369.22 L393.05 369.50 L393.50 369.10 L393.95 369.43 L394.40 368.92 L394.85 368.77 L395.30 368.24 L395.75 368.72 L396.20 368.88 L396.65 368.71 L397.10 367.08 L397.55 367.46 L398.00 368.68 L398.45 367.72 L398.90 367.60 L399.35 367.95 L399.80 367.45 L400.25 367.00 L400.70 367.02 L401.15 367.67 L401.60 366.30 L402.05 367.17 L402.50 366.42 L402.95 366.29 L403.40 366.95 L403.85 365.87 L404.30 366.28 L404.75 365.68 L405.20 365.13 L405.65 365.47 L406.10 365.83 L406.55 365.17 L407.00 365.30 L407.45 365.01 L407.90 364.81 L408.35 364.49 L408.80 364.55 L409.25 363.58 L409.70 364.03 L410.15 363.36 L410.60 364.00 L411.05 363.89 L411.50 363.30 L411.95 363.76 L412.40 363.45 L412.85 363.26 L413.30 362.86 L413.75 363.03 L414.20 363.10 L414.65 362.29 L415.10 362.07 L415.55 362.69 L416.00 361.19 L416.45 360.92 L416.90 361.07 L417.35 361.69 L417.80 361.52 L418.25 361.50 L418.70 361.19 L419.15 361.60 L419.60 361.46 L420.05 361.14 L420.50 360.09 L420.95 360.52 L421.40 359.89 L421.85 359.88 L422.30 359.52 L422.75 359.77 L423.20 359.82 L423.65 359.48 L424.10 358.83 L424.55 358.54 L425.00 358.68 L425.45 358.52 L425.90 358.98 L426.35 358.39 L426.80 358.29 L427.25 358.14 L427.70 358.48 L428.15 358.54 L428.60 357.91 L429.05 357.49 L429.50 357.98 L429.95 357.45 L430.40 356.95 L430.85 357.37 L431.30 356.89 L431.75 356.09 L432.20 356.75 L432.65 356.47 L433.10 355.45 L433.55 355.18 L434.00 355.94 L434.45 356.01 L434.90 355.82 L435.35 354.88 L435.80 355.13 L436.25 355.39 L436.70 354.35 L437.15 354.85 L437.60 354.75 L438.05 354.88 L438.50 353.38 L438.95 354.27 L439.40 354.87 L439.85 353.66 L440.30 353.63 L440.75 354.00 L441.20 353.16 L441.65 353.78 L442.10 353.39 L442.55 352.38 L443.00 352.91 L443.45 352.13 L443.90 352.96 L444.35 351.75 L444.80 351.55 L445.25 351.68 L445.70 351.67 L446.15 352.39 L446.60 351.70 L447.05 351.68 L447.50 351.86 L447.95 351.00 L448.40 350.90 L448.85 350.65 L449.30 351.18 L449.75 351.39 L450.20 350.68 L450.65 350.18 L451.10 350.09 L451.55 349.71 L452.00 350.33 L452.45 349.45 L452.90 349.65 L453.35 349.14 L453.80 348.70 L454.25 348.30 L454.70 348.85 L455.15 349.18 L455.60 348.82 L456.05 348.73 L456.50 348.25 L456.95 348.18 L457.40 347.99 L457.85 348.40 L458.30 349.03 L458.75 348.00 L459.20 347.36 L459.65 348.33 L460.10 347.26 L460.55 347.79 L461.00 347.25 L461.45 347.35 L461.90 348.63 L462.35 346.76 L462.80 346.71 L463.25 346.99 L463.70 346.71 L464.15 346.43 L464.60 346.20 L465.05 346.62 L465.50 346.71 L465.95 345.75 L466.40 345.56 L466.85 346.70 L467.30 345.22 L467.75 346.01 L468.20 345.79 L468.65 345.03 L469.10 345.71 L469.55 344.82 L470.00 344.72 L470.45 344.49 L470.90 345.33 L471.35 344.69 L471.80 345.24 L472.25 344.34 L472.70 344.85 L473.15 345.09 L473.60 344.36 L474.05 343.83 L474.50 344.07 L474.95 344.65 L475.40 344.34 L475.85 343.78 L476.30 343.11 L476.75 344.07 L477.20 344.38 L477.65 344.30 L478.10 343.70 L478.55 343.35 L479.00 343.02 L479.45 343.03 L479.90 342.50 L480.35 344.03 L480.80 343.04 L481.25 343.99 L481.70 342.87 L482.15 342.14 L482.60 343.56 L483.05 342.33 L483.50 342.44 L483.95 343.27 L484.40 343.12 L484.85 341.57 L485.30 342.38 L485.75 341.85 L486.20 342.49 L486.65 342.98 L487.10 341.93 L487.55 342.74 L488.00 341.65 L488.45 342.93 L488.90 341.59 L489.35 341.70 L489.80 341.99 L490.25 341.21 L490.70 342.44 L491.15 341.28 L491.60 341.96 L492.05 341.11 L492.50 341.68 L492.95 341.59 L493.40 341.40 L493.85 341.75 L494.30 341.03 L494.75 342.14 L495.20 341.55 L495.65 340.25 L496.10 342.29 L496.55 341.61 L497.00 342.06 L497.45 341.31 L497.90 340.40 L498.35 341.19 L498.80 340.83 L499.25 341.34 L499.70 341.15 L500.15 341.44 L500.60 340.60 L501.05 341.39 L501.50 341.17 L501.95 341.65 L502.40 340.66 L502.85 341.22 L503.30 342.13 L503.75 340.93 L504.20 341.78 L504.65 342.06 L505.10 341.50 L505.55 341.96 L506.00 342.01 L506.45 342.27 L506.90 341.48 L507.35 341.62 L507.80 342.06 L508.25 341.44 L508.70 341.82 L509.15 341.55 L509.60 340.90 L510.05 342.10 L510.50 342.74 L510.95 341.91 L511.40 342.16 L511.85 342.00 L512.30 341.94 L512.75 342.39 L513.20 342.86 L513.65 343.42 L514.10 342.91 L514.55 342.22 L515.00 342.11 L515.45 343.36 L515.90 343.03 L516.35 342.72 L516.80 342.63 L517.25 342.83 L517.70 343.80 L518.15 343.37 L518.60 342.89 L519.05 343.97 L519.50 343.84 L519.95 343.70 L520.40 344.20 L520.85 343.71 L521.30 344.59 L521.75 343.70 L522.20 344.05 L522.65 343.99 L523.10 344.53 L523.55 344.52 L524.00 344.82 L524.45 345.12 L524.90 345.50 L525.35 345.47 L525.80 345.66 L526.25 346.38 L526.70 345.75 L527.15 345.41 L527.30 346.58 L527.50 341.10 L528.20 341.30 L528.40 347.08 L528.05 347.11 L528.50 346.58 L528.95 347.02 L529.40 346.56 L529.85 347.08 L530.30 347.44 L530.75 347.50 L531.20 347.30 L531.65 348.38 L532.10 347.95 L532.55 348.45 L533.00 348.41 L533.45 348.79 L533.90 349.00 L534.35 348.71 L534.80 349.34 L535.25 350.08 L535.70 350.21 L536.15 349.89 L536.60 350.47 L537.05 349.44 L537.50 350.78 L537.95 350.41 L538.40 349.85 L538.85 350.86 L539.30 351.39 L539.75 350.92 L540.20 352.21 L540.65 352.18 L541.10 351.32 L541.55 352.46 L542.00 352.31 L542.45 352.26 L542.90 352.58 L543.35 352.74 L543.80 352.65 L544.25 353.19 L544.70 353.87 L545.15 354.39 L545.60 354.63 L546.05 354.04 L546.50 354.45 L546.95 354.39 L547.40 355.38 L547.85 354.54 L548.30 354.89 L548.75 355.41 L549.20 356.00 L549.65 356.01 L550.10 356.40 L550.55 356.64 L551.00 356.96 L551.45 356.70 L551.90 357.22 L552.35 357.83 L552.80 357.96 L553.25 358.52 L553.70 358.05 L554.15 358.95 L554.60 359.42 L555.05 359.04 L555.50 359.46 L555.95 359.69 L556.40 360.07 L556.85 360.27 L557.30 360.95 L557.75 360.84 L558.20 361.23 L558.65 361.29 L559.10 361.02 L559.55 361.86 L560.00 361.86 L560.45 361.97 L560.90 362.14 L561.35 362.73 L561.80 362.79 L562.25 364.07 L562.70 364.18 L563.15 363.74 L563.60 364.38 L564.05 364.83 L564.50 364.60 L564.95 365.64 L565.40 365.56 L565.85 365.45 L566.30 365.09 L566.75 365.69 L567.20 366.45 L567.65 366.45 L568.10 366.89 L568.55 366.89 L569.00 367.56 L569.45 367.58 L569.90 367.46 L570.35 368.20 L570.80 368.40 L571.25 368.33 L571.70 369.72 L572.15 369.46 L572.60 369.66 L573.05 370.35 L573.50 370.33 L573.95 370.94 L574.40 370.41 L574.85 370.87 L575.30 371.75 L575.75 372.39 L576.20 372.15 L576.65 372.52 L577.10 372.44 L577.55 373.03 L578.00 373.09 L578.45 373.59 L578.90 374.21 L579.35 373.54 L579.80 374.63 L580.25 374.57 L580.70 374.94 L581.15 375.88 L581.60 375.89 L582.05 376.42 L582.50 375.77 L582.95 376.56 L583.40 376.86 L583.85 377.12 L584.30 377.79 L584.75 378.26 L585.20 377.87 L585.65 378.24 L586.10 378.45 L586.55 379.60 L587.00 379.34 L587.45 379.80 L587.90 380.03 L588.35 380.13 L588.80 380.91 L589.25 381.23 L589.70 381.74 L590.15 381.66 L590.60 381.95 L591.05 382.18 L591.50 383.20 L591.95 383.36 L592.40 383.32 L592.85 383.88 L593.30 383.78 L593.75 385.00 L594.20 384.43 L594.65 384.82 L595.10 385.15 L595.55 386.17 L596.00 385.98 L596.45 386.61 L596.90 386.54 L597.35 386.51 L597.80 387.49 L598.25 387.36 L598.70 387.46 L599.15 388.08 L599.60 388.76 L600.05 389.46 L600.50 388.76 L600.95 388.83 L601.40 390.18 L601.85 390.31 L602.30 390.36 L602.75 391.01 L603.20 391.45 L603.65 392.16 L604.10 391.84 L604.55 392.63 L605.00 392.41 L605.45 392.73 L605.90 393.36 L606.35 393.21 L606.80 393.49 L607.25 394.55 L607.70 393.97 L608.15 394.96 L608.60 395.17 L609.05 395.49 L609.50 395.54 L609.95 395.66 L610.40 396.43 L610.85 396.62 L611.30 397.20 L611.75 397.70 L612.20 397.79 L612.65 398.04 L613.10 398.80 L613.55 398.83 L614.00 399.11 L614.45 399.66 L614.90 400.19 L615.35 401.09 L615.80 401.29 L616.25 400.78 L616.70 401.11 L617.15 401.88 L617.60 402.38 L618.05 402.53 L618.50 403.57 L618.95 403.62 L619.40 404.12 L619.85 403.86 L620.30 404.08 L620.75 404.39 L621.20 405.02 L621.65 405.05 L622.10 405.59 L622.55 406.01 L623.00 406.77 L623.45 406.72 L623.90 406.81 L624.35 407.45 L624.80 407.99 L625.25 408.46 L625.70 408.41 L626.15 409.22 L626.60 409.79 L627.05 409.90 L627.50 410.20 L627.95 410.37 L628.40 410.69 L628.85 410.67 L629.30 411.77 L629.75 411.87 L630.20 412.38 L630.65 412.85 L631.10 412.86 L631.55 413.73 L632.00 413.86 L632.45 414.61 L632.90 414.62 L633.35 415.03 L633.80 415.25 L634.25 416.09 L634.70 415.51 L635.15 416.31 L635.60 416.75 L636.05 416.80 L636.50 417.37 L636.95 417.39 L637.40 418.39 L637.85 418.36 L638.30 419.20 L638.75 419.42 L639.20 419.65 L639.65 419.85 L640.10 420.46 L640.55 421.10 L641.00 421.38 L641.45 421.97 L641.90 421.98 L642.35 422.98 L642.80 422.90 L643.25 423.13 L643.70 424.06 L644.15 424.46 L644.60 424.49 L645.05 424.79 L645.50 425.52 L645.95 425.47 L646.40 426.31 L646.85 426.14 L647.30 426.85 L647.75 427.27 L648.20 427.95 L648.65 427.61 L649.10 428.51 L649.55 428.82 L650.00 429.24 L650.45 429.43 L650.90 429.73 L651.35 430.32 L651.80 430.77 L652.25 431.57 L652.70 431.65 L653.15 432.02 L653.60 432.58 L654.05 432.44 L654.50 433.38 L654.95 433.82 L655.40 434.21 L655.85 434.32 L656.30 434.51 L656.75 434.96 L657.20 435.64 L657.65 436.10 L658.10 436.65 L658.55 437.10 L659.00 437.35 L659.45 437.55 L659.90 437.99 L660.35 438.27 L660.80 438.95 L661.25 439.23 L661.70 439.54 L662.15 439.61 L662.60 440.49 L663.05 440.32 L663.50 441.30 L663.95 441.63 L664.40 441.46 L664.85 442.17 L665.30 442.30 L665.75 442.91 L666.20 443.43 L666.65 443.66 L667.10 443.78 L667.55 444.49 L668.00 444.86 L668.45 445.17 L668.90 445.33 L669.35 445.84 L669.80 446.34 L670.25 446.61 L670.70 447.43 L671.15 447.42 L671.60 447.69 L672.05 448.18 L672.50 448.22 L672.95 448.88 L673.40 449.46 L673.85 449.32 L674.30 449.90 L674.75 450.33 L675.20 450.20 L675.65 451.19 L676.10 451.01 L676.55 451.48 L677.00 451.95 L677.45 452.17 L677.90 452.69 L678.35 452.90 L678.80 453.30 L679.25 453.53 L679.70 454.11 L680.15 453.78 L680.60 454.54 L681.05 454.72 L681.50 454.91 L681.95 455.25 L682.40 455.60 L682.85 456.11 L683.30 456.14 L683.75 456.57 L684.20 456.94 L684.65 456.97 L685.10 457.66 L685.55 458.18 L686.00 457.91 L686.45 458.47 L686.90 458.53 L687.35 458.94 L687.80 459.09 L688.25 459.77 L688.70 459.59 L689.15 460.04 L689.60 460.26 L690.05 460.22 L690.50 460.28 L690.95 461.00 L691.40 461.28 L691.85 461.28 L692.30 461.50 L692.50 461.88"/>
</g>
<g stroke="#000" stroke-width="1" fill="none" shape-rendering="crispEdges">
<rect x="100.5" y="60.5" width="620" height="218"/>
<rect x="100.5" y="322.5" width="620" height="218"/>
</g>
<g stroke="#000" stroke-width="0.8" fill="none">
<line x1="178.5" y1="278" x2="178.5" y2="272.4"/>
<line x1="178.5" y1="61" x2="178.5" y2="66.6"/>
<line x1="178.5" y1="540" x2="178.5" y2="534.4"/>
<line x1="178.5" y1="323" x2="178.5" y2="328.6"/>
<line x1="255.5" y1="278" x2="255.5" y2="272.4"/>
<line x1="255.5" y1="61" x2="255.5" y2="66.6"/>
<line x1="255.5" y1="540" x2="255.5" y2="534.4"/>
<line x1="255.5" y1="323" x2="255.5" y2="328.6"/>
<line x1="333.5" y1="278" x2="333.5" y2="272.4"/>
<line x1="333.5" y1="61" x2="333.5" y2="66.6"/>
<line x1="333.5" y1="540" x2="333.5" y2="534.4"/>
<line x1="333.5" y1="323" x2="333.5" y2="328.6"/>
<line x1="410.5" y1="278" x2="410.5" y2="272.4"/>
<line x1="410.5" y1="61" x2="410.5" y2="66.6"/>
<line x1="410.5" y1="540" x2="410.5" y2="534.4"/>
<line x1="410.5" y1="323" x2="410.5" y2="328.6"/>
<line x1="488.5" y1="278" x2="488.5" y2="272.4"/>
<line x1="488.5" y1="61" x2="488.5" y2="66.6"/>
<line x1="488.5" y1="540" x2="488.5" y2="534.4"/>
<line x1="488.5" y1="323" x2="488.5" y2="328.6"/>
<line x1="565.5" y1="278" x2="565.5" y2="272.4"/>
<line x1="565.5" y1="61" x2="565.5" y2="66.6"/>
<line x1="565.5" y1="540" x2="565.5" y2="534.4"/>
<line x1="565.5" y1="323" x2="565.5" y2="328.6"/>
<line x1="643.5" y1="278" x2="643.5" y2="272.4"/>
<line x1="643.5" y1="61" x2="643.5" y2="66.6"/>
<line x1="643.5" y1="540" x2="643.5" y2="534.4"/>
<line x1="643.5" y1="323" x2="643.5" y2="328.6"/>
<line x1="101" y1="84.5" x2="106.6" y2="84.5"/>
<line x1="720" y1="84.5" x2="714.4" y2="84.5"/>
<line x1="101" y1="108.5" x2="106.6" y2="108.5"/>
<line x1="720" y1="108.5" x2="714.4" y2="108.5"/>
<line x1="101" y1="133.5" x2="106.6" y2="133.5"/>
<line x1="720" y1="133.5" x2="714.4" y2="133.5"/>
<line x1="101" y1="157.5" x2="106.6" y2="157.5"/>
<line x1="720" y1="157.5" x2="714.4" y2="157.5"/>
<line x1="101" y1="181.5" x2="106.6" y2="181.5"/>
<line x1="720" y1="181.5" x2="714.4" y2="181.5"/>
<line x1="101" y1="205.5" x2="106.6" y2="205.5"/>
<line x1="720" y1="205.5" x2="714.4" y2="205.5"/>
<line x1="101" y1="230.5" x2="106.6" y2="230.5"/>
<line x1="720" y1="230.5" x2="714.4" y2="230.5"/>
<line x1="101" y1="254.5" x2="106.6" y2="254.5"/>
<line x1="720" y1="254.5" x2="714.4" y2="254.5"/>
<line x1="101" y1="346.5" x2="106.6" y2="346.5"/>
<line x1="720" y1="346.5" x2="714.4" y2="346.5"/>
<line x1="101" y1="370.5" x2="106.6" y2="370.5"/>
<line x1="720" y1="370.5" x2="714.4" y2="370.5"/>
<line x1="101" y1="395.5" x2="106.6" y2="395.5"/>
<line x1="720" y1="395.5" x2="714.4" y2="395.5"/>
<line x1="101" y1="419.5" x2="106.6" y2="419.5"/>
<line x1="720" y1="419.5" x2="714.4" y2="419.5"/>
<line x1="101" y1="443.5" x2="106.6" y2="443.5"/>
<line x1="720" y1="443.5" x2="714.4" y2="443.5"/>
<line x1="101" y1="467.5" x2="106.6" y2="467.5"/>
<line x1="720" y1="467.5" x2="714.4" y2="467.5"/>
<line x1="101" y1="492.5" x2="106.6" y2="492.5"/>
<line x1="720" y1="492.5" x2="714.4" y2="492.5"/>
<line x1="101" y1="516.5" x2="106.6" y2="516.5"/>
<line x1="720" y1="516.5" x2="714.4" y2="516.5"/>
</g>
<g shape-rendering="crispEdges" fill="#fff" stroke="#000" stroke-width="1">
<rect x="588.5" y="66.5" width="126" height="34"/>
<rect x="587.5" y="327.5" width="127" height="35"/>
</g>
<g stroke-width="1.39" fill="none">
<line x1="595" y1="74.5" x2="612" y2="74.5" stroke="#ff0000"/>
<line x1="595" y1="90.5" x2="612" y2="90.5" stroke="#008000"/>
<line x1="595" y1="336.5" x2="612" y2="336.5" stroke="#ff0000"/>
<line x1="595" y1="351.5" x2="612" y2="351.5" stroke="#008000"/>
</g>
<g font-family='"Liberation Sans", sans-serif' fill="#000">
<text x="410.00" y="53.00" font-size="20.90" text-anchor="middle" textLength="515.59" lengthAdjust="spacingAndGlyphs">GL88, ID:146834 Uncalibrated On-source spectrum</text>
<text x="100.00" y="294.60" font-size="17.42" text-anchor="middle" textLength="42.42" lengthAdjust="spacingAndGlyphs">1414</text>
<text x="100.00" y="556.80" font-size="17.42" text-anchor="middle" textLength="42.42" lengthAdjust="spacingAndGlyphs">1398</text>
<text x="177.50" y="294.60" font-size="17.42" text-anchor="middle" textLength="42.42" lengthAdjust="spacingAndGlyphs">1416</text>
<text x="177.50" y="556.80" font-size="17.42" text-anchor="middle" textLength="42.42" lengthAdjust="spacingAndGlyphs">1400</text>
<text x="255.00" y="294.60" font-size="17.42" text-anchor="middle" textLength="42.42" lengthAdjust="spacingAndGlyphs">1418</text>
<text x="255.00" y="556.80" font-size="17.42" text-anchor="middle" textLength="42.42" lengthAdjust="spacingAndGlyphs">1402</text>
<text x="332.50" y="294.60" font-size="17.42" text-anchor="middle" textLength="42.42" lengthAdjust="spacingAndGlyphs">1420</text>
<text x="332.50" y="556.80" font-size="17.42" text-anchor="middle" textLength="42.42" lengthAdjust="spacingAndGlyphs">1404</text>
<text x="410.00" y="294.60" font-size="17.42" text-anchor="middle" textLength="42.42" lengthAdjust="spacingAndGlyphs">1422</text>
<text x="410.00" y="556.80" font-size="17.42" text-anchor="middle" textLength="42.42" lengthAdjust="spacingAndGlyphs">1406</text>
<text x="487.50" y="294.60" font-size="17.42" text-anchor="middle" textLength="42.42" lengthAdjust="spacingAndGlyphs">1424</text>
<text x="487.50" y="556.80" font-size="17.42" text-anchor="middle" textLength="42.42" lengthAdjust="spacingAndGlyphs">1408</text>
<text x="565.00" y="294.60" font-size="17.42" text-anchor="middle" textLength="42.42" lengthAdjust="spacingAndGlyphs">1426</text>
<text x="565.00" y="556.80" font-size="17.42" text-anchor="middle" textLength="42.42" lengthAdjust="spacingAndGlyphs">1410</text>
<text x="642.50" y="294.60" font-size="17.42" text-anchor="middle" textLength="42.42" lengthAdjust="spacingAndGlyphs">1428</text>
<text x="642.50" y="556.80" font-size="17.42" text-anchor="middle" textLength="42.42" lengthAdjust="spacingAndGlyphs">1412</text>
<text x="720.00" y="294.60" font-size="17.42" text-anchor="middle" textLength="42.42" lengthAdjust="spacingAndGlyphs">1430</text>
<text x="720.00" y="556.80" font-size="17.42" text-anchor="middle" textLength="42.42" lengthAdjust="spacingAndGlyphs">1414</text>
<text x="95.20" y="283.88" font-size="17.42" text-anchor="end" textLength="10.61" lengthAdjust="spacingAndGlyphs">0</text>
<text x="95.20" y="545.70" font-size="17.42" text-anchor="end" textLength="10.61" lengthAdjust="spacingAndGlyphs">0</text>
<text x="95.20" y="259.64" font-size="17.42" text-anchor="end" textLength="31.82" lengthAdjust="spacingAndGlyphs">100</text>
<text x="95.20" y="521.46" font-size="17.42" text-anchor="end" textLength="21.21" lengthAdjust="spacingAndGlyphs">50</text>
<text x="95.20" y="235.40" font-size="17.42" text-anchor="end" textLength="31.82" lengthAdjust="spacingAndGlyphs">200</text>
<text x="95.20" y="497.22" font-size="17.42" text-anchor="end" textLength="31.82" lengthAdjust="spacingAndGlyphs">100</text>
<text x="95.20" y="211.15" font-size="17.42" text-anchor="end" textLength="31.82" lengthAdjust="spacingAndGlyphs">300</text>
<text x="95.20" y="472.97" font-size="17.42" text-anchor="end" textLength="31.82" lengthAdjust="spacingAndGlyphs">150</text>
<text x="95.20" y="186.91" font-size="17.42" text-anchor="end" textLength="31.82" lengthAdjust="spacingAndGlyphs">400</text>
<text x="95.20" y="448.73" font-size="17.42" text-anchor="end" textLength="31.82" lengthAdjust="spacingAndGlyphs">200</text>
<text x="95.20" y="162.67" font-size="17.42" text-anchor="end" textLength="31.82" lengthAdjust="spacingAndGlyphs">500</text>
<text x="95.20" y="424.49" font-size="17.42" text-anchor="end" textLength="31.82" lengthAdjust="spacingAndGlyphs">250</text>
<text x="95.20" y="138.43" font-size="17.42" text-anchor="end" textLength="31.82" lengthAdjust="spacingAndGlyphs">600</text>
<text x="95.20" y="400.25" font-size="17.42" text-anchor="end" textLength="31.82" lengthAdjust="spacingAndGlyphs">300</text>
<text x="95.20" y="114.18" font-size="17.42" text-anchor="end" textLength="31.82" lengthAdjust="spacingAndGlyphs">700</text>
<text x="95.20" y="376.00" font-size="17.42" text-anchor="end" textLength="31.82" lengthAdjust="spacingAndGlyphs">350</text>
<text x="95.20" y="89.94" font-size="17.42" text-anchor="end" textLength="31.82" lengthAdjust="spacingAndGlyphs">800</text>
<text x="95.20" y="351.76" font-size="17.42" text-anchor="end" textLength="31.82" lengthAdjust="spacingAndGlyphs">400</text>
<text x="95.20" y="65.70" font-size="17.42" text-anchor="end" textLength="31.82" lengthAdjust="spacingAndGlyphs">900</text>
<text x="95.20" y="327.52" font-size="17.42" text-anchor="end" textLength="31.82" lengthAdjust="spacingAndGlyphs">450</text>
<text x="410.00" y="576.00" font-size="17.42" text-anchor="middle" textLength="141.67" lengthAdjust="spacingAndGlyphs">Frequency (MHz)</text>
<g transform="translate(53,168.5) rotate(-90)"><text x="0.00" y="0.00" font-size="17.42" text-anchor="middle" textLength="195.97" lengthAdjust="spacingAndGlyphs">Uncalibrated amplitude</text></g>
<text x="623.20" y="78.00" font-size="11.60" text-anchor="start" textLength="89.55" lengthAdjust="spacingAndGlyphs">XX1 Tsys283.21</text>
<text x="623.20" y="93.00" font-size="11.60" text-anchor="start" textLength="80.84" lengthAdjust="spacingAndGlyphs">YY1 Tsys38.12</text>
<text x="622.20" y="338.80" font-size="11.60" text-anchor="start" textLength="89.55" lengthAdjust="spacingAndGlyphs">XX2 Tsys316.99</text>
<text x="622.20" y="354.50" font-size="11.60" text-anchor="start" textLength="80.84" lengthAdjust="spacingAndGlyphs">YY2 Tsys44.03</text>
</g>
</svg>
</body></html>
